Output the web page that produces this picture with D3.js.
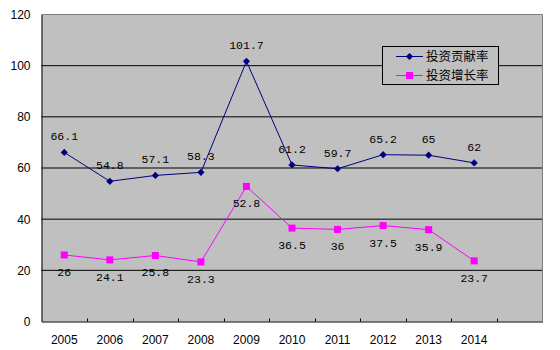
<!DOCTYPE html>
<html><head><meta charset="utf-8">
<script src="https://cdn.jsdelivr.net/npm/d3@7"></script>
<style>body{margin:0;background:#fff}svg{display:block}</style>
</head><body><svg id="c" width="560" height="350"></svg>
<script>
const categories = ["2005","2006","2007","2008","2009","2010","2011","2012","2013","2014",""];
const contribution = [66.1,54.8,57.1,58.3,101.7,61.2,59.7,65.2,65,62];
const growth = [26,24.1,25.8,23.3,52.8,36.5,36,37.5,35.9,23.7];
const contribLabels = ["66.1","54.8","57.1","58.3","101.7","61.2","59.7","65.2","65","62"];
const growthLabels = ["26","24.1","25.8","23.3","52.8","36.5","36","37.5","35.9","23.7"];
const yTicks = [0,20,40,60,80,100,120];
const seriesNames = ["投资贡献率","投资增长率"];

const svg = d3.select("#c");
const L = 41.5, R = 542.5, T = 14.5, B = 321.5;
const x = d3.scaleBand().domain(categories).range([L, R]);
const y = d3.scaleLinear().domain([0,120]).range([B, T]);

svg.append("rect").attr("x",L).attr("y",T).attr("width",R-L).attr("height",B-T).attr("fill","#c0c0c0");
svg.append("g").selectAll("line").data(yTicks.filter(d=>d>0&&d<120)).join("line")
  .attr("x1",L).attr("x2",R).attr("y1",d=>y(d)).attr("y2",d=>y(d)).attr("stroke","#000").attr("stroke-width",1);
svg.append("path").attr("d",`M${L},${T}H${R}V${B}`).attr("fill","none").attr("stroke","#808080").attr("stroke-width",1);

const ya = svg.append("g").attr("transform",`translate(${L},0)`)
  .call(d3.axisLeft(y).tickValues(yTicks).tickSize(0).tickPadding(11));
ya.select(".domain").attr("stroke","#000");
ya.selectAll("text").attr("font-family","Liberation Sans, Arial, sans-serif").attr("font-size",12).attr("fill","#000");

const xa = svg.append("g").attr("transform",`translate(0,${B})`)
  .call(d3.axisBottom(x).tickSize(0).tickPadding(14));
xa.select(".domain").attr("stroke","#000");
xa.selectAll("text").attr("font-family","Liberation Sans, Arial, sans-serif").attr("font-size",12).attr("fill","#000");
svg.append("g").selectAll("line").data(categories.slice(1)).join("line")
  .attr("x1",d=>Math.round(x(d))+0.5).attr("x2",d=>Math.round(x(d))+0.5)
  .attr("y1",B).attr("y2",B-3).attr("stroke","#000");

const cx = (d,i)=>x(categories[i])+x.bandwidth()/2;
const line = d3.line().x((d,i)=>cx(d,i)).y(d=>y(d));

svg.append("path").datum(contribution).attr("d",line).attr("fill","none").attr("stroke","#000080").attr("stroke-width",1);
svg.append("path").datum(growth).attr("d",line).attr("fill","none").attr("stroke","#ff00ff").attr("stroke-width",1);

const diamondPath = d3.symbol().type(d3.symbolSquare).size(26);
svg.append("g").selectAll("path").data(contribution).join("path")
  .attr("d",diamondPath)
  .attr("transform",(d,i)=>`translate(${cx(d,i)},${y(d)}) rotate(45)`).attr("fill","#000080");
svg.append("g").selectAll("rect").data(growth).join("rect")
  .attr("x",(d,i)=>cx(d,i)-3.5).attr("y",d=>y(d)-3.5).attr("width",7).attr("height",7).attr("fill","#ff00ff");

const lf = "Liberation Mono, DejaVu Sans Mono, monospace";
svg.append("g").selectAll("text").data(contribution).join("text")
  .attr("x",(d,i)=>cx(d,i)).attr("y",d=>y(d)-12).attr("text-anchor","middle")
  .attr("font-family",lf).attr("font-size",11.5).attr("fill","#000").text((d,i)=>contribLabels[i]);
svg.append("g").selectAll("text").data(growth).join("text")
  .attr("x",(d,i)=>cx(d,i)).attr("y",d=>y(d)+21).attr("text-anchor","middle")
  .attr("font-family",lf).attr("font-size",11.5).attr("fill","#000").text((d,i)=>growthLabels[i]);

const lg = svg.append("g");
lg.append("rect").attr("x",382.5).attr("y",46.5).attr("width",116).attr("height",38).attr("fill","#c0c0c0").attr("stroke","#000");
const rows = [{c:"#000080",t:"d",y:56.5},{c:"#ff00ff",t:"s",y:75.5}];
rows.forEach((r,i)=>{
  lg.append("line").attr("x1",396).attr("x2",423).attr("y1",r.y).attr("y2",r.y).attr("stroke",r.c);
  if(r.t==="d") lg.append("path").attr("d",diamondPath).attr("transform",`translate(409.5,${r.y}) rotate(45)`).attr("fill",r.c);
  else lg.append("rect").attr("x",406).attr("y",r.y-3.5).attr("width",7).attr("height",7).attr("fill",r.c);
  lg.append("text").attr("x",426).attr("y",r.y+4.5).attr("font-family","Noto Sans CJK SC, sans-serif").attr("font-size",12.5).attr("fill","#000").text(seriesNames[i]);
});
</script></body></html>
